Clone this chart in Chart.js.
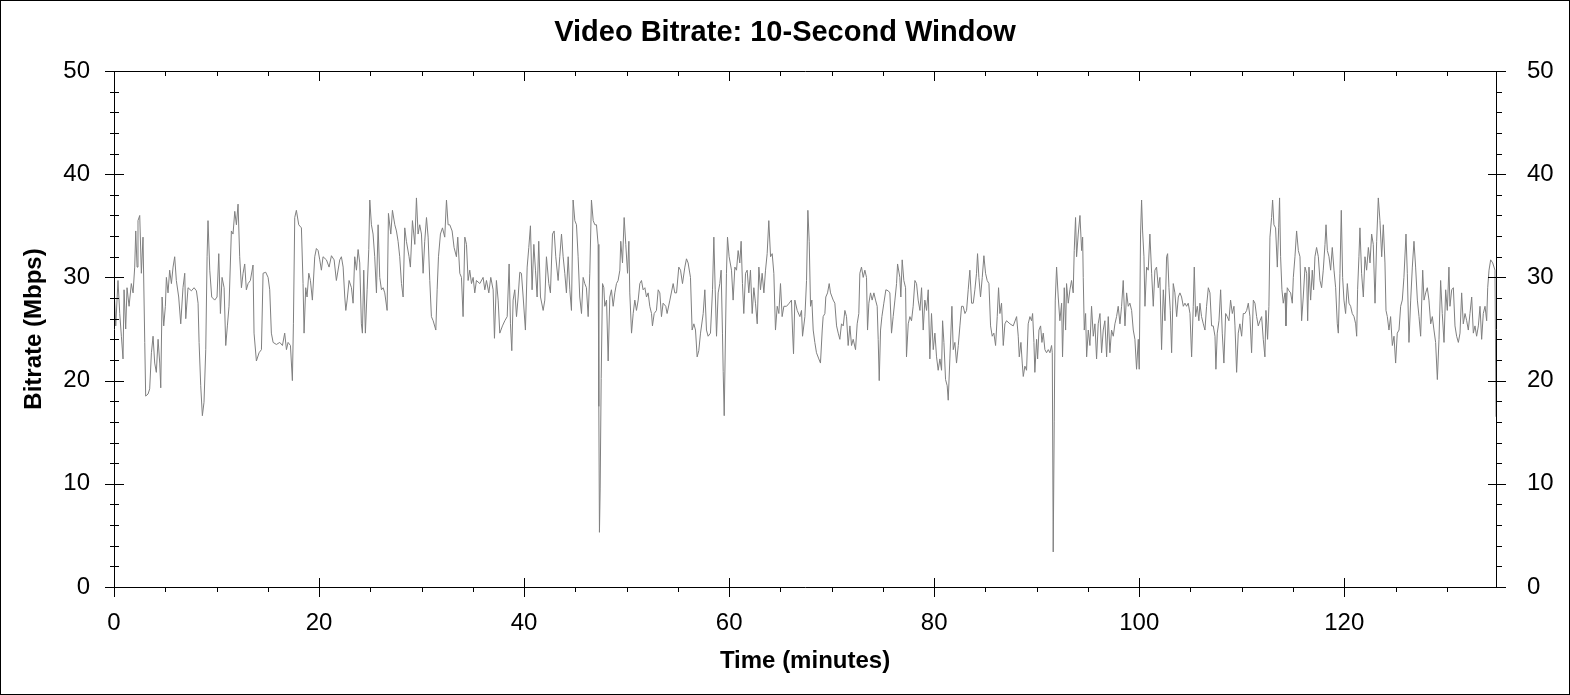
<!DOCTYPE html>
<html>
<head>
<meta charset="utf-8">
<script src="https://cdn.jsdelivr.net/npm/chart.js@4.4.1/dist/chart.umd.min.js"></script>
<style>
html,body{margin:0;padding:0;background:#fff;}
#wrap{width:1570px;height:695px;}
canvas{display:block;}
</style>
</head>
<body>
<div id="wrap"><canvas id="c" width="1570" height="695"></canvas></div>
<script>
// ---- data (time in minutes, bitrate in Mbps) ----
const minutesA = [0.05,0.17,0.39,0.56,0.72,0.88,0.98,1.14,1.27,1.47,
1.69,1.86,2.02,2.12,2.25,2.34,2.51,2.67,2.83,3.00,
3.09,3.32,3.48,3.65,3.81,3.97,4.13,4.30,4.46,4.56,
4.69,4.85,5.01,5.11,5.27,5.43,5.60,5.76,5.92,6.08,
6.31,6.51,6.73,6.90,7.00,7.22,7.55,7.81,8.04,8.20,
8.30,8.46,8.62,8.78,8.95,9.08,9.17,9.34,9.53,9.82,
10.05,10.22,10.38,10.54,10.74,10.90,11.06,11.22,11.45,11.61,
11.78,11.94,12.10,12.26,12.43,12.59,12.75,12.91,13.08,13.30,
13.56,13.66,13.89,14.15,14.38,14.54,14.80,15.03,15.19,15.35,
15.52,15.84,16.17,16.43,16.65,16.82,16.98,17.21,17.40,17.50,
17.63,17.79,18.02,18.28,18.44,18.54,18.70,18.83,19.00,19.16,
19.35,19.58,19.74,19.91,20.07,20.23,20.39,20.72,20.98,21.21,
21.47,21.69,22.02];
const mbpsA = [28.0,25.3,29.7,26.5,24.3,22.1,28.8,25.0,29.0,27.2,
29.4,28.5,31.0,34.5,31.0,35.5,36.0,30.4,33.9,23.7,
18.5,18.7,19.2,22.7,24.3,21.7,20.8,24.0,21.7,19.3,
28.1,25.3,27.2,30.0,28.5,30.7,29.4,31.0,32.0,29.7,
28.1,25.5,29.0,30.4,26.0,29.0,28.7,29.0,28.7,27.5,
23.7,19.5,16.6,17.9,23.0,32.0,35.5,30.7,28.1,27.8,
28.1,32.3,26.5,30.0,29.0,23.4,25.3,27.2,34.5,34.2,
36.4,35.1,37.1,32.0,29.0,30.4,31.3,28.8,29.4,29.7,
31.2,24.6,21.9,22.7,23.0,30.4,30.5,30.0,28.8,24.6,
23.7,23.5,23.7,23.4,24.6,23.0,23.7,23.4,20.0,25.5,
35.8,36.5,35.1,34.8,29.4,24.6,29.0,28.1,30.4,29.7,
27.8,32.0,32.8,32.6,31.7,30.7,32.0,31.7,31.0,32.1,
31.7,29.7,31.7];

const minutesB = [22.18,22.35,22.51,22.61,22.74,22.93,23.16,23.32,23.48,23.65,
23.81,23.97,24.13,24.23,24.36,24.52,24.69,24.85,24.95,25.11,
25.27,25.43,25.60,25.76,25.92,26.09,26.25,26.41,26.64,26.77,
27.00,27.16,27.39,27.55,27.71,27.87,28.04,28.20,28.36,28.52,
28.78,28.91,29.11,29.34,29.50,29.66,29.82,29.99,30.15,30.31,
30.48,30.64,30.80,30.96,31.13,31.39,31.52,31.65,31.84,32.04,
32.26,32.43,32.59,32.75,32.98,33.17,33.40,33.53,33.73,33.89,
34.05,34.22,34.38,34.54,34.70,34.87,35.03,35.19,35.35,35.68,
36.00,36.17,36.33,36.56,36.75,36.98,37.11,37.30,37.47,37.63,
37.89,38.12,38.35,38.54,38.67,38.80,38.93,39.09,39.26,39.42,
39.58,39.74,39.91,40.13,40.30,40.46,40.62,40.78,40.95,41.11,
41.27,41.43,41.60,41.86,42.02,42.18,42.41,42.57,42.77,42.93,
43.09,43.32,43.48,43.65,43.81,43.97,44.13,44.30,44.46];
const mbpsB = [32.0,31.0,28.1,26.8,27.8,29.7,29.0,27.5,32.0,30.7,
32.7,31.4,25.5,24.6,30.7,24.6,28.8,32.7,37.5,35.1,
34.2,32.0,28.5,35.1,30.0,28.8,29.0,28.5,26.8,36.2,
34.2,36.5,35.1,34.5,33.5,32.0,29.4,28.1,34.8,33.5,
32.0,31.0,35.5,33.2,37.7,34.2,35.1,34.2,30.4,33.5,
35.8,33.9,29.7,26.2,25.8,24.9,28.8,32.0,34.2,34.8,
33.9,37.5,35.1,35.1,34.5,32.9,32.0,33.9,30.4,30.0,
26.2,33.9,33.2,29.7,30.7,29.4,30.0,28.5,29.7,29.4,
30.0,28.8,29.7,28.5,30.0,28.8,24.1,29.7,27.8,24.6,
25.3,25.8,26.2,31.3,25.5,22.9,27.8,28.8,26.2,28.1,
30.5,30.4,28.1,24.9,31.0,32.9,35.0,28.8,33.2,30.7,
28.1,33.5,28.1,26.8,27.8,32.0,29.4,28.5,34.2,34.5,
32.0,29.7,32.0,34.2,32.0,30.4,28.5,32.0,28.8];

const minutesC = [44.62,44.78,44.95,45.11,45.27,45.43,45.60,45.76,45.92,46.08,
46.25,46.41,46.57,46.74,46.90,47.06,47.22,47.29,47.35,47.42,
47.52,47.65,47.78,47.87,48.04,48.20,48.36,48.52,48.69,48.85,
49.01,49.17,49.34,49.43,49.60,49.76,49.92,50.09,50.22,50.31,
50.48,50.64,50.80,50.96,51.13,51.29,51.45,51.61,51.78,51.94,
52.10,52.26,52.43,52.52,52.69,52.91,53.08,53.24,53.40,53.56,
53.82,53.95,54.22,54.54,54.70,54.87,55.09,55.26,55.45,55.68,
55.84,56.00,56.23,56.39,56.56,56.72,56.88,57.04,57.21,57.47,
57.63,57.79,57.95,58.18,58.38,58.51,58.64,58.77,58.93,59.09,
59.22,59.35,59.42,59.52,59.65,59.74,59.84,60.00,60.23,60.39,
60.56,60.72,60.88,61.04,61.17,61.30,61.43,61.60,61.76,61.92,
62.08,62.25,62.41,62.57,62.74,62.90,63.06,63.22,63.39,63.55,
63.71,63.87,64.04,64.20,64.36,64.52,64.69,64.85,65.01,65.17,
65.34,65.60,65.86,66.08,66.18,66.28,66.41,66.64,66.90];
const mbpsC = [26.8,37.5,35.5,35.1,32.0,28.1,26.5,30.0,29.4,29.0,
26.2,30.4,37.5,35.5,35.1,35.1,33.2,17.5,5.3,9.5,
20.2,29.4,29.0,27.2,27.8,21.9,28.1,28.8,27.2,28.5,
29.4,29.7,30.7,33.5,31.4,35.8,33.2,30.4,33.5,28.5,
24.6,26.5,27.8,26.8,27.8,29.4,29.7,28.8,29.0,28.1,
28.5,27.2,26.5,25.3,26.5,26.8,28.8,28.5,26.2,27.5,
27.2,26.5,27.8,29.4,28.5,28.5,31.0,30.7,29.4,31.0,
31.8,31.4,30.0,24.9,25.5,24.9,22.3,22.9,24.6,26.5,
28.8,24.9,24.3,24.6,28.8,33.9,28.8,24.3,28.5,29.4,
30.7,24.6,20.9,16.6,24.9,30.4,33.9,32.0,30.7,27.8,
31.0,30.7,32.6,31.4,33.5,29.4,26.5,30.4,30.7,28.5,
30.7,26.5,29.0,27.5,25.5,31.0,28.8,30.4,28.5,30.7,
32.3,35.5,32.0,32.3,30.4,24.9,27.2,26.5,29.4,26.2,
27.2,27.2,27.5,27.8,24.9,22.6,27.8,26.8,26.2];

const minutesD = [67.06,67.16,67.39,67.55,67.68,67.81,67.94,68.07,68.20,68.36,
68.52,68.75,68.91,69.08,69.17,69.34,69.43,69.60,69.76,69.89,
70.15,70.31,70.48,70.64,70.80,70.96,71.13,71.29,71.45,71.61,
71.78,71.94,72.10,72.33,72.49,72.65,72.75,72.91,73.08,73.24,
73.40,73.50,73.63,73.79,73.95,74.12,74.28,74.44,74.54,74.64,
74.77,74.90,75.09,75.29,75.52,75.68,75.84,76.00,76.17,76.33,
76.43,76.65,76.75,76.88,77.04,77.21,77.30,77.47,77.63,77.79,
77.95,78.12,78.28,78.44,78.61,78.77,78.93,79.09,79.26,79.42,
79.58,79.74,79.91,80.07,80.23,80.39,80.56,80.72,80.82,80.95,
81.11,81.27,81.37,81.53,81.73,81.86,82.02,82.18,82.35,82.51,
82.67,82.83,83.00,83.16,83.32,83.48,83.65,83.81,83.97,84.13,
84.23,84.36,84.52,84.69,84.85,85.01,85.17,85.34,85.50,85.66,
85.82,85.99,86.15,86.28,86.41,86.57,86.74,86.90,87.06,87.39,
87.71,88.04,88.20,88.30,88.46,88.59,88.69,88.85,89.01,89.17,
89.34];
const mbpsD = [26.8,24.3,26.2,29.7,36.5,33.5,27.2,27.8,24.9,23.7,
22.7,22.1,21.7,24.9,26.2,26.5,28.1,28.5,29.4,28.5,
27.8,27.5,25.3,24.6,24.0,25.5,25.3,26.8,26.2,23.4,
25.3,23.4,24.0,23.0,25.5,26.5,30.4,31.0,30.0,30.7,
30.0,24.9,27.5,28.5,27.8,28.5,27.8,27.2,24.0,20.0,
24.9,26.2,27.5,28.8,28.7,28.5,24.6,26.2,27.8,29.4,
31.3,30.0,28.1,31.7,29.7,29.0,22.3,25.5,26.2,25.8,
27.2,29.7,29.4,27.8,26.8,29.0,24.9,27.8,26.8,28.8,
22.1,26.5,23.0,24.6,22.3,21.0,22.1,21.0,25.8,23.7,
20.1,19.5,18.1,22.1,27.2,23.0,23.7,21.7,23.4,25.3,
27.2,27.2,26.5,26.8,28.8,30.7,27.5,27.5,28.8,30.4,
32.3,30.0,28.1,30.0,32.1,30.4,29.7,29.4,25.3,24.3,
24.6,23.4,26.2,29.0,26.5,27.5,23.4,25.5,25.8,25.5,
25.3,26.2,24.3,22.3,23.7,21.7,20.4,21.4,21.0,25.5,
26.2];

const minutesE = [89.50,89.60,89.73,89.82,89.99,90.09,90.22,90.38,90.51,90.64,
90.80,90.96,91.13,91.29,91.45,91.52,91.61,91.71,91.81,91.94,
92.10,92.26,92.43,92.52,92.69,92.82,92.91,93.08,93.24,93.40,
93.56,93.66,93.79,93.89,94.05,94.22,94.38,94.48,94.54,94.64,
94.77,94.87,95.03,95.19,95.35,95.52,95.68,95.84,96.00,96.17,
96.33,96.49,96.65,96.82,96.98,97.14,97.30,97.47,97.63,97.79,
97.95,98.12,98.28,98.44,98.61,98.77,98.93,99.09,99.26,99.42,
99.58,99.74,99.91,100.00,100.13,100.23,100.33,100.46,100.56,100.72,
100.88,101.04,101.21,101.37,101.53,101.69,101.86,102.02,102.18,102.35,
102.51,102.67,102.77,102.90,103.03,103.16,103.32,103.48,103.65,103.81,
103.97,104.13,104.30,104.46,104.62,104.78,104.95,105.11,105.27,105.37,
105.50,105.66,105.82,105.92,106.08,106.25,106.41,106.57,106.74,106.90,
107.06,107.22,107.39,107.48,107.61,107.78,107.94,108.10,108.26,108.43,
108.59,108.75,108.91,109.08,109.24,109.34,109.50,109.66,109.82,109.99,
110.15,110.31,110.48,110.64,110.80,110.96,111.13,111.29,111.45,111.61,
111.78];
const mbpsE = [25.8,26.5,23.7,20.8,24.0,22.1,24.9,25.3,23.7,24.6,
23.0,22.7,23.0,22.7,23.4,22.7,3.4,16.0,27.8,31.0,
28.1,25.8,27.5,22.3,29.0,24.9,29.4,27.5,28.8,29.7,
28.5,32.6,35.8,32.0,34.2,36.0,32.6,33.9,30.0,24.9,
26.5,22.3,24.9,23.4,27.2,24.3,25.5,22.1,25.5,26.5,
22.7,24.9,25.8,22.3,26.2,22.7,24.9,24.3,25.5,26.2,
27.2,25.5,27.2,29.7,25.3,28.5,27.2,27.5,26.8,24.9,
24.0,21.1,24.0,21.1,34.2,37.5,34.5,32.0,27.2,31.0,
30.7,34.2,30.4,27.2,30.7,31.0,29.0,30.0,23.0,28.8,
25.8,32.0,32.3,29.0,26.8,22.7,29.4,28.5,26.2,28.1,
28.5,28.1,27.2,27.5,27.2,27.5,26.5,22.3,27.2,31.0,
26.2,27.2,25.8,27.5,26.2,25.5,24.9,27.2,29.0,28.5,
25.3,25.3,24.3,21.1,24.6,25.8,28.8,24.6,21.7,26.5,
26.2,25.8,27.8,26.5,27.2,25.3,20.8,24.6,25.5,24.3,
26.5,26.5,26.8,27.5,26.2,22.7,27.8,27.5,26.2,25.3,
25.8];

const minutesF = [111.94,112.10,112.26,112.36,112.52,112.65,112.75,112.91,113.01,113.14,
113.30,113.47,113.60,113.69,113.79,113.92,114.05,114.22,114.31,114.44,
114.61,114.77,114.93,115.03,115.19,115.35,115.52,115.68,115.84,116.00,
116.17,116.33,116.43,116.56,116.72,116.88,117.01,117.14,117.30,117.47,
117.63,117.79,117.95,118.12,118.22,118.35,118.51,118.67,118.83,119.00,
119.16,119.32,119.42,119.58,119.71,119.84,119.97,120.13,120.30,120.46,
120.62,120.78,120.95,121.11,121.21,121.30,121.43,121.53,121.69,121.86,
122.02,122.18,122.35,122.51,122.67,122.83,123.00,123.16,123.32,123.48,
123.65,123.81,123.97,124.07,124.20,124.36,124.52,124.69,124.85,125.01,
125.17,125.34,125.50,125.66,125.82,126.02,126.15,126.31,126.48,126.64,
126.80,126.96,127.13,127.29,127.45,127.65,127.78,127.94,128.10,128.26,
128.43,128.59,128.75,128.91,129.08,129.24,129.40,129.56,129.73,129.89,
130.05,130.21,130.31,130.48,130.64,130.80,130.96,131.13,131.29,131.45,
131.61,131.78,131.94,132.10,132.26,132.43,132.59,132.75,132.91,133.08,
133.24,133.40,133.56,133.73,133.89,133.99,134.12,134.28,134.48,134.70,
134.80];
const mbpsF = [26.2,24.0,22.3,26.8,24.0,27.2,33.9,35.8,37.5,35.1,
34.8,31.0,34.8,37.7,32.0,28.8,27.5,28.5,25.3,29.0,
28.7,28.5,27.5,30.0,32.0,34.5,32.6,32.0,25.8,28.1,
31.0,30.4,25.8,31.0,27.8,30.7,28.8,32.0,32.9,32.0,
29.7,29.0,30.7,33.2,35.1,32.6,32.0,30.7,32.9,30.7,
29.0,25.5,24.6,30.4,36.5,30.0,27.8,26.5,29.4,27.5,
27.2,26.5,26.2,25.5,24.3,28.8,32.0,34.8,30.4,28.1,
32.0,30.7,32.9,31.4,34.2,33.2,27.5,33.5,37.7,35.5,
32.0,35.1,31.4,26.8,26.2,24.9,26.2,23.4,24.3,21.7,
24.6,24.9,27.2,27.8,30.0,34.2,30.4,23.7,27.8,31.0,
33.5,31.0,27.8,26.2,24.3,30.7,27.8,28.5,29.0,27.8,
25.5,26.2,24.9,23.7,20.1,24.0,29.7,26.5,23.7,28.8,
26.8,31.0,27.2,28.8,29.0,25.3,24.3,23.7,24.6,28.5,
25.5,26.5,25.8,24.9,26.5,28.1,24.6,25.3,24.3,25.3,
27.2,24.0,26.5,27.2,25.8,29.0,30.7,31.7,31.4,30.7,
16.5];

// ---- axis ticks and texts ----
const xTickLabels = [0,20,40,60,80,100,120];
const yTickLabels = [0,10,20,30,40,50];
const xMinorStep = 5;
const yMinorStep = 2;
const chartTitle = 'Video Bitrate: 10-Second Window';
const xAxisTitle = 'Time (minutes)';
const yAxisTitle = 'Bitrate (Mbps)';

const minutes = [].concat(minutesA, minutesB, minutesC, minutesD, minutesE, minutesF);
const mbps = [].concat(mbpsA, mbpsB, mbpsC, mbpsD, mbpsE, mbpsF);
const points = minutes.map((t, i) => ({x: t, y: mbps[i]}));

const FONT = "'Liberation Sans', Arial, Helvetica, sans-serif";

const framePlugin = {
  id: 'frame',
  beforeDraw(chart) {
    const {ctx, width, height} = chart;
    ctx.save();
    ctx.fillStyle = '#ffffff';
    ctx.fillRect(0, 0, width, height);
    ctx.strokeStyle = '#000000';
    ctx.lineWidth = 1;
    ctx.strokeRect(0.5, 0.5, width - 1, height - 1);
    ctx.restore();
  },
  afterDraw(chart) {
    const {ctx, chartArea: a} = chart;
    const xs = chart.scales.x, ys = chart.scales.y;
    const L = Math.round(a.left) + 0.5, R = Math.round(a.right) + 0.5;
    const T = Math.round(a.top) + 0.5, B = Math.round(a.bottom) + 0.5;
    ctx.save();
    ctx.strokeStyle = '#000000';
    ctx.lineWidth = 1;
    ctx.beginPath();
    ctx.rect(L, T, R - L, B - T);
    // y ticks (left and right)
    for (let v = ys.min; v <= ys.max + 1e-9; v += yMinorStep) {
      const py = Math.round(ys.getPixelForValue(v)) + 0.5;
      const major = yTickLabels.includes(v);
      if (major) {
        ctx.moveTo(L - 9.5, py); ctx.lineTo(L + 9.5, py);
        ctx.moveTo(R - 8.5, py); ctx.lineTo(R + 9.5, py);
      } else {
        ctx.moveTo(L - 4.5, py); ctx.lineTo(L + 4.5, py);
        ctx.moveTo(R, py); ctx.lineTo(R + 5.5, py);
      }
    }
    // x ticks (bottom and top)
    for (let v = 0; v <= xs.max + 1e-9; v += xMinorStep) {
      const px = Math.round(xs.getPixelForValue(v)) + 0.5;
      const major = xTickLabels.includes(v);
      if (major) {
        ctx.moveTo(px, B - 9.5); ctx.lineTo(px, B + 9.5);
        ctx.moveTo(px, T); ctx.lineTo(px, T + 9.5);
      } else {
        ctx.moveTo(px, B); ctx.lineTo(px, B + 4.5);
        ctx.moveTo(px, T); ctx.lineTo(px, T + 4.5);
      }
    }
    ctx.stroke();
    ctx.restore();
  }
};

const tickFont = {family: FONT, size: 24, weight: 'normal'};
const titleFont = {family: FONT, size: 24, weight: 'bold', lineHeight: 1.2};

new Chart(document.getElementById('c'), {
  type: 'line',
  data: {
    datasets: [{
      data: points,
      borderColor: '#808080',
      borderWidth: 1,
      pointRadius: 0,
      pointHoverRadius: 0,
      tension: 0,
      fill: false
    }]
  },
  options: {
    responsive: false,
    animation: false,
    devicePixelRatio: 1,
    events: [],
    layout: {padding: 0},
    plugins: {
      legend: {display: false},
      tooltip: {enabled: false},
      title: {
        display: true,
        text: chartTitle,
        color: '#000000',
        font: {family: FONT, size: 29, weight: 'bold', lineHeight: 1.2},
        padding: {top: 15.2, bottom: 21}
      }
    },
    scales: {
      x: {
        type: 'linear',
        position: 'bottom',
        min: 0,
        max: 134.8,
        afterBuildTicks(s) { s.ticks = xTickLabels.map(v => ({value: v})); },
        afterFit(s) { s.height = 108; },
        grid: {display: false, drawTicks: false},
        border: {display: false},
        ticks: {color: '#000000', font: tickFont, padding: 22, maxRotation: 0, autoSkip: false},
        title: {display: true, text: xAxisTitle, color: '#000000', font: titleFont, padding: {top: 0, bottom: 19}}
      },
      y: {
        type: 'linear',
        position: 'left',
        min: 0,
        max: 50,
        afterBuildTicks(s) { s.ticks = yTickLabels.map(v => ({value: v})); },
        afterFit(s) { s.width = 114; },
        grid: {display: false, drawTicks: false},
        border: {display: false},
        ticks: {color: '#000000', font: tickFont, padding: 24},
        title: {display: true, text: yAxisTitle, color: '#000000', font: titleFont, padding: {top: 19.5, bottom: 0}}
      },
      y2: {
        type: 'linear',
        position: 'right',
        min: 0,
        max: 50,
        afterBuildTicks(s) { s.ticks = yTickLabels.map(v => ({value: v})); },
        afterFit(s) { s.width = 74; },
        grid: {display: false, drawTicks: false},
        border: {display: false},
        ticks: {color: '#000000', font: tickFont, padding: 31}
      }
    }
  },
  plugins: [framePlugin]
});
</script>
</body>
</html>
